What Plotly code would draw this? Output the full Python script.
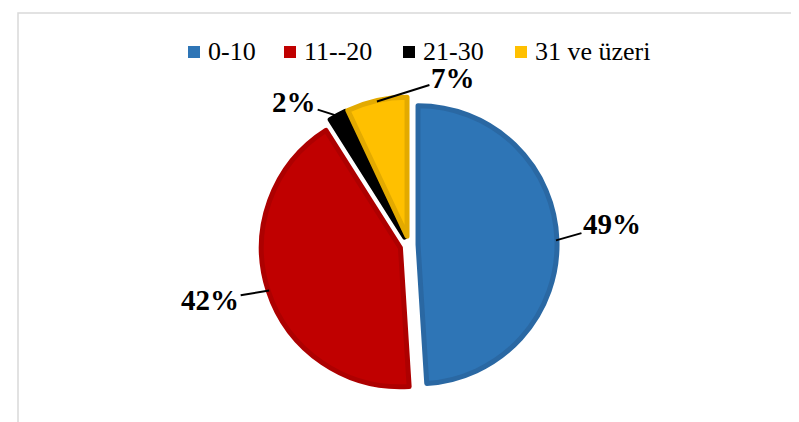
import math
import plotly.graph_objects as go

labels = ["0-10", "11--20", "21-30", "31 ve üzeri"]
values = [49, 42, 2, 7]
colors = ["#2E75B6", "#C00000", "#000000", "#FFC000"]
edge_colors = ["#2A68A3", "#AD0000", "#000000", "#E3AA00"]
# label offsets (pixels) from the slice rim to the percentage text
label_offsets = [(56, -16), (-59, 10), (-44, -14), (76, -24)]
# left edge (pixels) of each legend entry's square
legend_x = [180, 276, 395, 507]

W, H = 799, 422
FONT = "Liberation Serif"
LEGEND_FONT = "Tinos"

cx, cy = 401, 237      # pie centre in pixels (from top)
r = 139                # pie radius in pixels
pull = 0.065
half = r * (1 + pull)

fig = go.Figure(go.Pie(
    labels=labels,
    values=values,
    sort=False,
    direction="clockwise",
    rotation=0,
    pull=pull,
    marker=dict(colors=colors, line=dict(color=edge_colors, width=5)),
    textinfo="none",
    domain=dict(x=[(cx - half) / W, (cx + half) / W],
                y=[(H - cy - half) / H, (H - cy + half) / H]),
    hoverinfo="label+percent",
    showlegend=False,
))

# percentage labels with leader lines, placed from the slice mid angles
total = sum(values)
annotations = []
acc = 0
for v, (ax, ay) in zip(values, label_offsets):
    mid = (acc + v / 2) / total * 2 * math.pi
    acc += v
    rr = r * (1 + pull) - 1
    px_ = cx + rr * math.sin(mid)
    py_ = cy - rr * math.cos(mid)
    annotations.append(dict(
        x=px_ / W, y=(H - py_) / H, xref="paper", yref="paper",
        text="<b>%d%%</b>" % round(v / total * 100),
        showarrow=True, arrowhead=0, arrowwidth=2, arrowcolor="black",
        ax=ax, ay=ay, standoff=0,
        font=dict(family=FONT, size=29, color="black"),
    ))

# legend row at the top: coloured squares + serif labels
shapes = []
for lx, c, l in zip(legend_x, colors, labels):
    shapes.append(dict(type="rect", xref="paper", yref="paper",
                       x0=lx / W, x1=(lx + 12) / W,
                       y0=1 - 50 / H, y1=1 - 38 / H,
                       fillcolor=c, line=dict(width=0)))
    annotations.append(dict(
        x=(lx + 18) / W, y=1 - 44 / H, xref="paper", yref="paper",
        xanchor="left", yanchor="middle", showarrow=False,
        text=l, font=dict(family=LEGEND_FONT, size=26),
    ))

shapes.append(dict(type="rect", xref="paper", yref="paper",
                   x0=10 / W, x1=1.02, y0=-0.02, y1=1 - 5 / H,
                   line=dict(color="#D9D9D9", width=1.5)))

fig.update_layout(
    width=W,
    height=H,
    margin=dict(l=0, r=0, t=0, b=0),
    paper_bgcolor="white",
    plot_bgcolor="white",
    font=dict(color="black"),
    annotations=annotations,
    shapes=shapes,
)

fig.write_html("out.html")
